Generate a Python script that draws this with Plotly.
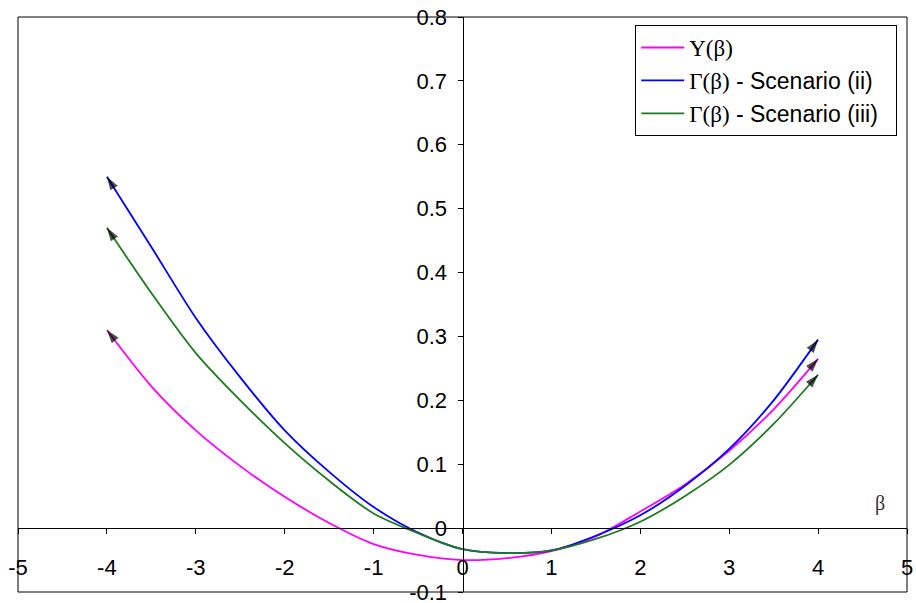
import plotly.graph_objects as go

beta = [-4, -3.5, -3, -2.5, -2, -1.5, -1, -0.5, 0, 0.5, 1, 1.5, 2, 2.5, 3, 3.5, 4]
upsilon = [0.31, 0.222, 0.153, 0.097, 0.049, 0.008, -0.025, -0.042, -0.050, -0.047, -0.036,
           -0.013, 0.026, 0.068, 0.121, 0.186, 0.265]
gamma_ii = [0.55, 0.44, 0.329, 0.236, 0.153, 0.088, 0.033, -0.007, -0.033, -0.039, -0.035,
            -0.012, 0.020, 0.066, 0.124, 0.200, 0.295]
gamma_iii = [0.47, 0.368, 0.274, 0.2, 0.133, 0.074, 0.023, -0.008, -0.033, -0.039, -0.035,
             -0.017, 0.010, 0.050, 0.099, 0.163, 0.24]

names = ['<span style="font-family:Liberation Serif">Υ(β)</span>',
         '<span style="font-family:Liberation Serif">Γ(β)</span> - Scenario (ii)',
         '<span style="font-family:Liberation Serif">Γ(β)</span> - Scenario (iii)&nbsp;&nbsp;']
colors = ['#FF00FF', '#0000FF', '#1E7B1E']
series = [upsilon, gamma_ii, gamma_iii]

x_ticks = [-5, -4, -3, -2, -1, 0, 1, 2, 3, 4, 5]
y_ticks = [-0.1, 0, 0.1, 0.2, 0.3, 0.4, 0.5, 0.6, 0.7, 0.8]

fig = go.Figure()
for ys, nm, c in zip(series, names, colors):
    fig.add_trace(go.Scatter(x=beta, y=ys, name=nm, mode='lines',
                             line=dict(color=c, width=1.8, shape='spline', smoothing=0.8)))
# arrow heads at both ends
for ys in series:
    for xs_pair, ys_pair in (([beta[1], beta[0]], [ys[1], ys[0]]),
                             ([beta[-2], beta[-1]], [ys[-2], ys[-1]])):
        fig.add_trace(go.Scatter(x=xs_pair, y=ys_pair, mode='markers', showlegend=False,
                                 hoverinfo='skip',
                                 marker=dict(symbol=['circle', 'arrow'], size=[0, 14],
                                             angleref='previous', color='black',
                                             line=dict(width=0))))

fig.update_layout(
    width=916, height=603,
    margin=dict(l=18, r=9, t=17, b=11),
    paper_bgcolor='white', plot_bgcolor='white',
    font=dict(family='Liberation Sans, Arial', size=22, color='black'),
    xaxis=dict(range=[-5, 5], tickvals=x_ticks, ticktext=[str(v) for v in x_ticks],
               anchor='free', position=0.1 / 0.9, showline=True, linecolor='black',
               linewidth=1, ticks='outside', ticklen=5, tickcolor='black',
               showgrid=False, zeroline=False, ticklabelstandoff=14, automargin=False,
               ticklabeloverflow='allow', tickfont=dict(size=22)),
    yaxis=dict(range=[-0.1, 0.8], tickvals=y_ticks, ticktext=[f'{v:g}' for v in y_ticks],
               anchor='free', position=0.5, showline=True, linecolor='black',
               linewidth=1, ticks='outside', ticklen=5, tickcolor='black',
               showgrid=False, zeroline=False, ticklabelstandoff=6, automargin=False,
               ticklabeloverflow='allow', tickfont=dict(size=22)),
    legend=dict(x=0.989, y=0.986, xanchor='right', yanchor='top',
                bgcolor='white', bordercolor='black', borderwidth=1,
                font=dict(size=23), tracegroupgap=0, itemwidth=43),
    shapes=[dict(type='rect', xref='paper', yref='paper', x0=0, y0=0, x1=1, y1=1,
                 line=dict(color='black', width=1))],
    annotations=[dict(text='<span style="font-family:Liberation Serif">β</span>',
                      xref='paper', yref='paper', x=0.977, y=0.13, showarrow=False,
                      font=dict(size=20, color='#333'))],
    showlegend=True,
)

fig.write_html("out.html", config={'displayModeBar': False},
               post_script="document.body.style.margin='0';document.body.style.overflow='hidden';")
